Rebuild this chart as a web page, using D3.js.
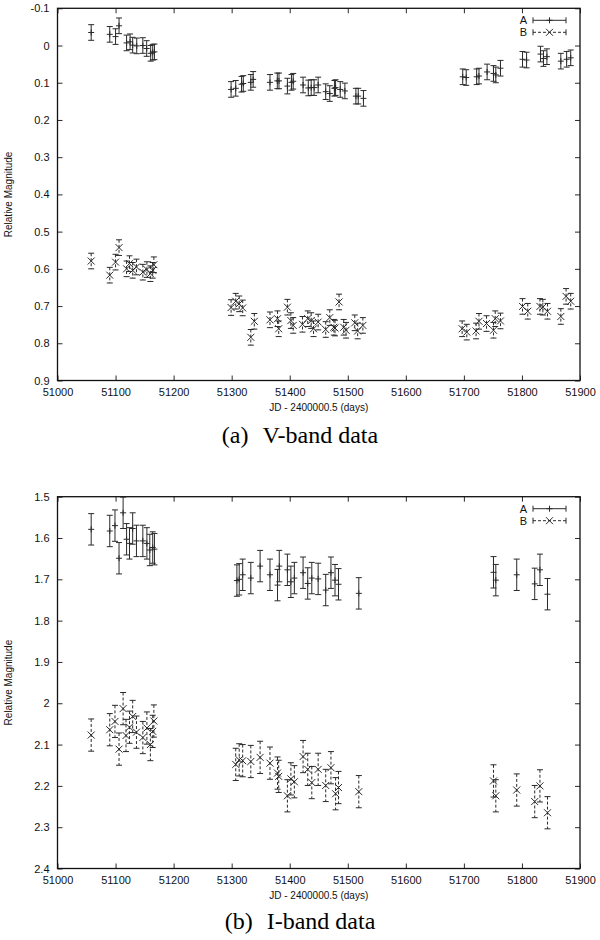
<!DOCTYPE html>
<html>
<head>
<meta charset="utf-8">
<script src="https://cdn.jsdelivr.net/npm/d3@7"></script>
<style>
  body { margin: 0; background: #fff; }
  svg { display: block; }
</style>
</head>
<body>
<svg id="chart" width="600" height="940"></svg>
<script>
// ---------- DATA ----------
// V-band, image A
const vA_jd  = [51058,51090,51100,51106,51119,51125,51129.5,51136.5,51147,51153.6,51160.5,51164,51167,
                51299,51307,51317,51320,51333,51337,51366,51378.6,51381.5,51396,51403,51406,51423,51432,51437,51442,51449,51462,51469,51477,51479,51487,51495,51514,51518,51527,
                51698,51704,51722,51726,51740,51751,51755,51763,51801,51808,51832,51837,51843,51867,51877,51884];
const vA_mag = [-0.035,-0.030,-0.024,-0.053,-0.007,-0.010,-0.001,0.001,0.000,0.008,0.021,0.018,0.017,
                0.118,0.115,0.104,0.102,0.099,0.091,0.099,0.095,0.095,0.109,0.099,0.096,0.106,0.114,0.113,0.113,0.106,0.124,0.129,0.115,0.113,0.118,0.122,0.136,0.136,0.142,
                0.084,0.086,0.084,0.082,0.071,0.075,0.079,0.061,0.037,0.039,0.023,0.035,0.030,0.042,0.037,0.033];
const vA_err = 0.021;
// V-band, image B
const vB_jd  = [51058,51090,51100,51106,51119,51124,51129.5,51136,51147,51154,51160,51164,51166,
                51299,51307,51313,51319,51333,51339,51366,51379,51381,51396,51402,51406,51422,51431,51437,51441,51449,51462,51469,51476,51478,51485,51493,51497,51512,51517,51526,
                51697,51705,51721,51726,51739,51751,51754,51763,51801,51810,51831,51836,51844,51867,51876,51884];
const vB_mag = [0.579,0.617,0.582,0.543,0.600,0.586,0.604,0.595,0.609,0.602,0.613,0.604,0.589,
                0.704,0.687,0.694,0.705,0.784,0.741,0.737,0.734,0.761,0.703,0.739,0.752,0.749,0.734,0.739,0.761,0.743,0.763,0.731,0.757,0.759,0.689,0.757,0.765,0.745,0.767,0.752,
                0.761,0.770,0.767,0.741,0.747,0.765,0.734,0.740,0.701,0.714,0.701,0.703,0.714,0.728,0.674,0.687];
const vB_err = 0.021;
// I-band, image A
const iA_jd  = [51058,51090,51099,51106,51113,51119,51124,51129.5,51136,51147,51154,51159,51164,51167,
                51309,51313,51319,51333,51349,51366,51379,51382,51396,51402,51408,51423,51431,51438,51449,51462,51471,51478,51484,51519,
                51751,51755,51791,51822,51831,51844];
const iA_mag = [1.579,1.583,1.570,1.649,1.539,1.603,1.613,1.577,1.607,1.607,1.613,1.629,1.623,1.627,
                1.703,1.700,1.689,1.697,1.668,1.689,1.714,1.668,1.677,1.706,1.697,1.684,1.710,1.697,1.699,1.726,1.684,1.702,1.712,1.734,
                1.683,1.702,1.689,1.711,1.677,1.736];
const iA_err = 0.038;
// I-band, image B
const iB_jd  = [51058,51090,51099,51106,51113,51118,51124,51129.5,51136,51147,51154,51160,51164,51166,
                51307,51313,51319,51333,51349,51366,51379,51381,51396,51402,51408,51423,51431,51438,51449,51462,51471,51479,51484,51519,
                51751,51755,51791,51822,51831,51844];
const iB_mag = [2.077,2.064,2.044,2.111,2.013,2.078,2.058,2.032,2.070,2.083,2.060,2.100,2.068,2.043,
                2.148,2.137,2.139,2.141,2.131,2.145,2.169,2.177,2.224,2.183,2.190,2.129,2.160,2.192,2.160,2.199,2.156,2.219,2.204,2.214,
                2.188,2.224,2.210,2.238,2.200,2.265];
const iB_err = 0.039;

const xTicks  = [51000,51100,51200,51300,51400,51500,51600,51700,51800,51900];
const vYTicks = [-0.1,0,0.1,0.2,0.3,0.4,0.5,0.6,0.7,0.8,0.9];
const iYTicks = [1.5,1.6,1.7,1.8,1.9,2.0,2.1,2.2,2.3,2.4];
const seriesNames = ["A","B"];
const xLabel = "JD - 2400000.5 (days)";
const yLabel = "Relative Magnitude";
const captionTags = ["(a)","(b)"];
const captionTexts = ["V-band data","I-band data"];

// ---------- DRAW ----------
const svg = d3.select("#chart");
const INK = "#2a2a2a";
const sans = "'Liberation Sans', Arial, sans-serif";
const serif = "'Liberation Serif', 'Times New Roman', serif";

function zip(jd, mag) { return jd.map((d, i) => ({ jd: d, m: mag[i] })); }
const fmt = d => String(+d.toFixed(2));

function panel(cfg) {
  const { top, bottom, left, right, yDomain, yTicks, A, B, errA, errB, tag, caption, capY } = cfg;
  const x = d3.scaleLinear().domain([51000, 51900]).range([left, right]);
  const y = d3.scaleLinear().domain(yDomain).range([top, bottom]);
  const g = svg.append("g");

  // axes (inward ticks, mirrored)
  const ax = g.append("g").attr("font-family", sans);
  const bottomAxis = ax.append("g").attr("transform", `translate(0,${bottom})`)
    .call(d3.axisBottom(x).tickValues(xTicks).tickSize(-5).tickPadding(8).tickFormat(d3.format("d")));
  const topAxis = ax.append("g").attr("transform", `translate(0,${top})`)
    .call(d3.axisTop(x).tickValues(xTicks).tickSize(-5).tickFormat(""));
  const leftAxis = ax.append("g").attr("transform", `translate(${left},0)`)
    .call(d3.axisLeft(y).tickValues(yTicks).tickSize(-5).tickPadding(8).tickFormat(fmt));
  const rightAxis = ax.append("g").attr("transform", `translate(${right},0)`)
    .call(d3.axisRight(y).tickValues(yTicks).tickSize(-5).tickFormat(""));
  [bottomAxis, topAxis, leftAxis, rightAxis].forEach(a => {
    a.select(".domain").remove();
    a.selectAll("line").attr("stroke", INK);
    a.selectAll("text").attr("font-size", 11).attr("fill", "#111").attr("font-family", sans);
  });
  g.append("rect").attr("x", left).attr("y", top).attr("width", right - left).attr("height", bottom - top)
    .attr("fill", "none").attr("stroke", "#111").attr("stroke-width", 1.3);

  // labels
  g.append("text").attr("x", (left + right) / 2).attr("y", bottom + 30)
    .attr("text-anchor", "middle").attr("font-family", sans).attr("font-size", 10).attr("fill", "#111").text(xLabel);
  g.append("text").attr("transform", `translate(12,${(top + bottom) / 2}) rotate(-90)`)
    .attr("text-anchor", "middle").attr("font-family", sans).attr("font-size", 10).attr("fill", "#111").text(yLabel);
  const cap = g.append("text").attr("x", 300).attr("y", capY)
    .attr("text-anchor", "middle").attr("font-family", serif).attr("font-size", 24).attr("fill", "#000");
  cap.append("tspan").text(tag);
  cap.append("tspan").attr("dx", 14).text(caption);

  // error bars
  function errs(data, err, dash, marker) {
    const s = g.append("g").attr("stroke", INK).attr("stroke-width", 1).attr("fill", "none");
    const cw = 3;
    data.forEach(d => {
      const cx = x(d.jd), y0 = y(d.m - err), y1 = y(d.m + err), cy = y(d.m);
      s.append("line").attr("x1", cx).attr("x2", cx).attr("y1", y0).attr("y2", y1)
        .attr("stroke-dasharray", dash);
      s.append("line").attr("x1", cx - cw).attr("x2", cx + cw).attr("y1", y0).attr("y2", y0);
      s.append("line").attr("x1", cx - cw).attr("x2", cx + cw).attr("y1", y1).attr("y2", y1);
      marker(s, cx, cy);
    });
  }
  const plus = (s, cx, cy) => {
    s.append("path").attr("d", `M${cx - 3},${cy}H${cx + 3}M${cx},${cy - 3}V${cy + 3}`);
  };
  const cross = (s, cx, cy) => {
    s.append("path").attr("d", `M${cx - 3.5},${cy - 3.5}L${cx + 3.5},${cy + 3.5}M${cx - 3.5},${cy + 3.5}L${cx + 3.5},${cy - 3.5}`);
  };
  errs(A, errA, null, plus);
  errs(B, errB, "3,2", cross);

  // legend
  const lg = g.append("g").attr("font-family", sans);
  seriesNames.forEach((name, i) => {
    const ly = top + 12 + i * 12;
    lg.append("text").attr("x", 527).attr("y", ly + 4).attr("text-anchor", "end")
      .attr("font-size", 11).attr("fill", "#111").text(name);
    const l = lg.append("g").attr("stroke", INK).attr("stroke-width", 1).attr("fill", "none");
    l.append("line").attr("x1", 533).attr("x2", 566).attr("y1", ly).attr("y2", ly)
      .attr("stroke-dasharray", i === 1 ? "3,2" : null);
    l.append("line").attr("x1", 533).attr("x2", 533).attr("y1", ly - 3).attr("y2", ly + 3);
    l.append("line").attr("x1", 566).attr("x2", 566).attr("y1", ly - 3).attr("y2", ly + 3);
    (i === 0 ? plus : cross)(l, 549.5, ly);
  });
}

panel({ top: 8.3, bottom: 380.5, left: 57.5, right: 580, yDomain: [-0.1, 0.9], yTicks: vYTicks,
        A: zip(vA_jd, vA_mag), B: zip(vB_jd, vB_mag), errA: vA_err, errB: vB_err,
        tag: captionTags[0], caption: captionTexts[0], capY: 443 });
panel({ top: 496.7, bottom: 868.5, left: 57.5, right: 580, yDomain: [1.5, 2.4], yTicks: iYTicks,
        A: zip(iA_jd, iA_mag), B: zip(iB_jd, iB_mag), errA: iA_err, errB: iB_err,
        tag: captionTags[1], caption: captionTexts[1], capY: 929 });
</script>
</body>
</html>
